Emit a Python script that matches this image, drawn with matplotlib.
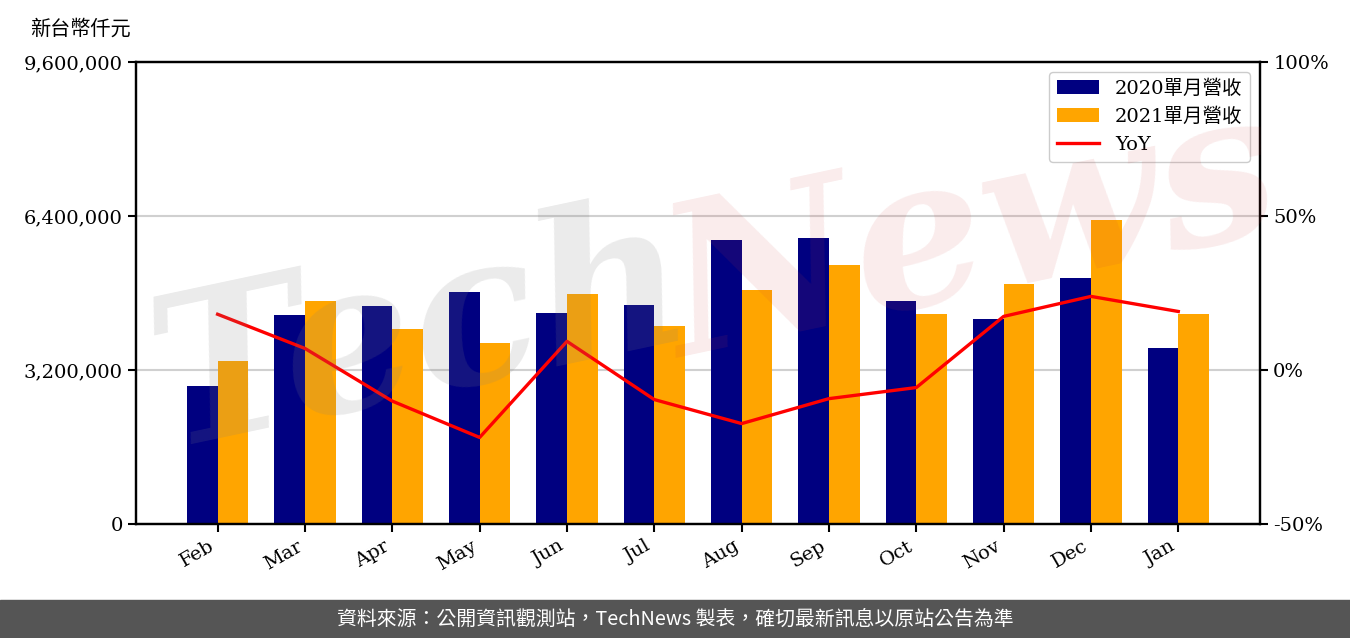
import matplotlib.pyplot as plt
import numpy as np
from matplotlib.ticker import FuncFormatter

# data (thousand NT$)
months = ['Feb', 'Mar', 'Apr', 'May', 'Jun', 'Jul', 'Aug', 'Sep', 'Oct', 'Nov', 'Dec', 'Jan']
rev_2020 = [2867532, 4342857, 4529870, 4820779, 4384416, 4550649,
            5901299, 5942857, 4633766, 4259740, 5111688, 3657143]
rev_2021 = [3387013, 4633766, 4051948, 3761039, 4779221, 4114286,
            4862338, 5381818, 4363636, 4987013, 6316883, 4363636]
yoy = [18.1, 7.0, -10.1, -21.9, 9.3, -9.6, -17.4, -9.3, -5.7, 17.4, 23.9, 19.0]

serif = ['DejaVu Serif', 'Noto Sans CJK TC']
cjk = ['Noto Sans CJK TC', 'DejaVu Sans']
plt.rcParams['font.family'] = serif

fig = plt.figure(figsize=(13.5, 6.38), dpi=100)
ax = fig.add_axes([0.1007, 0.1787, 0.8326, 0.7241])

x = np.arange(len(months))
w = 0.35
ax.bar(x - w, rev_2020, w, align='edge', color='#000080', label='2020單月營收')
ax.bar(x, rev_2021, w, align='edge', color='#FFA500', label='2021單月營收')

ax.set_ylim(0, 9600000)
ax.set_yticks([0, 3200000, 6400000, 9600000])
ax.yaxis.set_major_formatter(FuncFormatter(lambda v, p: f'{int(v):,}'))
ax.grid(axis='y', color='#d0d0d0', linewidth=1.5)
ax.set_axisbelow(True)
ax.set_xticks(x)
ax.set_xticklabels(months, rotation=30, ha='right')
ax.tick_params(labelsize=14, width=1.5, length=6)
for s in ax.spines.values():
    s.set_linewidth(1.6)

ax2 = ax.twinx()
ax2.plot(x, yoy, color='red', linewidth=2.4, label='YoY')
ax2.set_ylim(-50, 100)
ax2.set_yticks([-50, 0, 50, 100])
ax2.yaxis.set_major_formatter(FuncFormatter(lambda v, p: f'{int(v)}%'))
ax2.tick_params(labelsize=14, width=1.5, length=6)
for s in ax2.spines.values():
    s.set_linewidth(1.6)

h1, l1 = ax.get_legend_handles_labels()
h2, l2 = ax2.get_legend_handles_labels()
leg = ax2.legend(h1 + h2, l1 + l2, loc='upper right',
                 prop={'family': serif, 'size': 14}, framealpha=1,
                 edgecolor='#cccccc', handlelength=2.2)

# unit label
fig.text(0.022, 0.955, '新台幣仟元', fontsize=14.5, family=cjk, va='center')

# watermark
fig.text(0.10, 0.30, 'Tech', fontsize=150, family='DejaVu Serif', style='italic',
         weight='bold', color='#808080', alpha=0.16, rotation=12, zorder=10)
fig.text(0.48, 0.44, 'News', fontsize=150, family='DejaVu Serif', style='italic',
         weight='bold', color='#d04040', alpha=0.10, rotation=12, zorder=10)

# footer
fig.patches.append(plt.Rectangle((0, 0), 1, 38 / 638, transform=fig.transFigure,
                                 color='#555555', zorder=0))
fig.text(0.5, 19 / 638, '資料來源：公開資訊觀測站，TechNews 製表，確切最新訊息以原站公告為準',
         color='white', fontsize=14.3, family=cjk, ha='center', va='center')

fig.savefig('out.png', dpi=100)
